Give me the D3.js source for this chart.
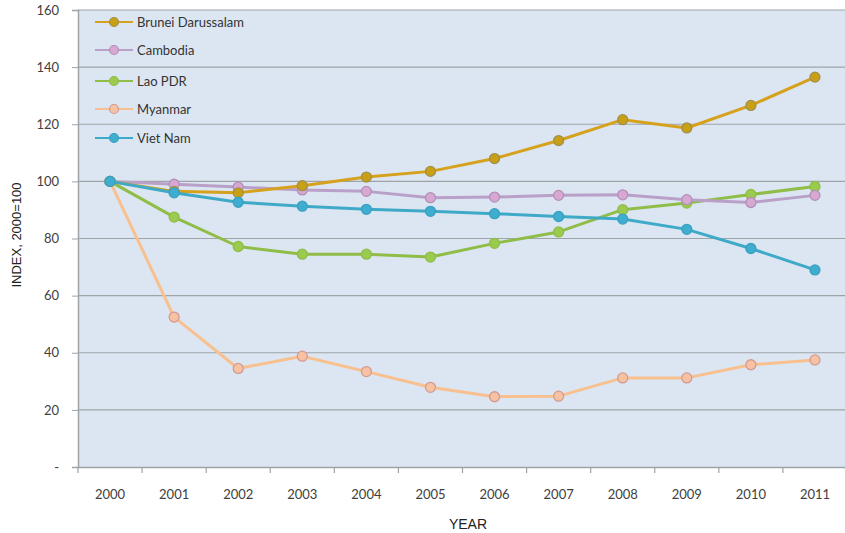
<!DOCTYPE html>
<html><head><meta charset="utf-8">
<script src="https://cdn.jsdelivr.net/npm/d3@7"></script>
<style>body{margin:0;background:#fff;} svg{display:block;}</style>
</head><body>
<svg id="c" width="845" height="533"></svg>
<script>
const years = ["2000","2001","2002","2003","2004","2005","2006","2007","2008","2009","2010","2011"];
const yTicks = [0,20,40,60,80,100,120,140,160];
const seriesNames = ["Brunei Darussalam","Cambodia","Lao PDR","Myanmar","Viet Nam"];
const brunei   = [100,96.5,96,98.5,101.5,103.5,108,114.3,121.6,118.7,126.6,136.5];
const cambodia = [100,99,98,97,96.5,94.3,94.5,95.1,95.3,93.6,92.6,95.1];
const lao      = [100,87.5,77.2,74.5,74.5,73.5,78.3,82.3,90.1,92.4,95.4,98.2];
const myanmar  = [100,52.5,34.5,38.8,33.4,27.9,24.6,24.8,31.2,31.2,35.8,37.5];
const vietnam  = [100,96,92.7,91.3,90.2,89.5,88.7,87.7,86.8,83.2,76.5,69];
const seriesData = [brunei,cambodia,lao,myanmar,vietnam];
const lineColors = ["#d6a11c","#b9a0c9","#8fbd48","#f8c08e","#3eaac8"];
const markFill   = ["#c9a014","#d6a8d2","#9acb4e","#f7c2a2","#3fadcf"];
const markStroke = ["#a09050","#b48fb8","#8fbd48","#d39a96","#3aa0c0"];

const svg = d3.select("#c");
const L = 78, R = 847, T = 10, B = 467;
const x = d3.scaleBand().domain(years).range([L, R]);
const y = d3.scaleLinear().domain([0,160]).range([B, T]);

svg.append("rect").attr("x",L).attr("y",T).attr("width",845-L).attr("height",B-T).attr("fill","#dce6f2");

// gridlines
svg.append("g").selectAll("line").data(yTicks.filter(d=>d>0)).join("line")
  .attr("x1",L).attr("x2",845).attr("y1",d=>y(d)).attr("y2",d=>y(d))
  .attr("stroke","#9ea3a8").attr("stroke-width",1.2);

// y axis
const yAxis = d3.axisLeft(y).tickValues(yTicks).tickSize(6).tickFormat(d=>d===0?"-":d);
const gy = svg.append("g").attr("transform",`translate(${L},0)`).call(yAxis);
gy.select(".domain").attr("stroke","#9ea3a8").attr("stroke-width",1.5);
gy.selectAll(".tick line").attr("stroke","#9ea3a8");
gy.selectAll(".tick text").attr("x",-19).attr("fill","#404040")
  .style("font-family","Lato, 'Open Sans', sans-serif").style("font-size","13px");

// x axis
const xAxis = d3.axisBottom(x).tickSize(0).tickPadding(23);
const gx = svg.append("g").attr("transform",`translate(0,${B})`).call(xAxis);
gx.select(".domain").attr("stroke","#9ea3a8").attr("stroke-width",1.5);
gx.selectAll(".tick text").attr("fill","#404040")
  .style("font-family","Lato, 'Open Sans', sans-serif").style("font-size","13px");
svg.append("g").selectAll("line").data(years.concat(["end"])).join("line")
  .attr("x1",(d,i)=>L+i*x.step()).attr("x2",(d,i)=>L+i*x.step())
  .attr("y1",B).attr("y2",B+6).attr("stroke","#9ea3a8").attr("stroke-width",1.2);

// lines
const line = d3.line().x((d,i)=>x(years[i])+x.bandwidth()/2).y(d=>y(d));
const order = [3,2,1,0,4];
order.forEach(s=>{
  svg.append("path").datum(seriesData[s]).attr("d",line).attr("fill","none")
    .attr("stroke",lineColors[s]).attr("stroke-width",3).attr("stroke-linejoin","round");
  svg.append("g").selectAll("circle").data(seriesData[s]).join("circle")
    .attr("cx",(d,i)=>x(years[i])+x.bandwidth()/2).attr("cy",d=>y(d)).attr("r",5)
    .attr("fill",markFill[s]).attr("stroke",markStroke[s]).attr("stroke-width",1.3);
});

// legend
const legY = [22,50,81,109,138];
const lg = svg.append("g");
seriesNames.forEach((n,s)=>{
  const g = lg.append("g").attr("transform",`translate(0,${legY[s]})`);
  g.append("line").attr("x1",95).attr("x2",133).attr("stroke",lineColors[s]).attr("stroke-width",2);
  g.append("circle").attr("cx",114).attr("r",4.5).attr("fill",markFill[s]).attr("stroke",markStroke[s]).attr("stroke-width",1.2);
  g.append("text").attr("x",137).attr("dy","0.35em").text(n).attr("fill","#333")
    .style("font-family","Lato, 'Open Sans', sans-serif").style("font-size","13px");
});

// axis titles
svg.append("text").attr("transform","translate(21,235) rotate(-90)").attr("text-anchor","middle")
  .text("INDEX, 2000=100").attr("fill","#222").style("font-family","'Liberation Sans', Arial, sans-serif").style("font-size","13px");
svg.append("text").attr("x",468).attr("y",529).attr("text-anchor","middle")
  .text("YEAR").attr("fill","#222").style("font-family","'Liberation Sans', Arial, sans-serif").style("font-size","14px");
</script>
</body></html>
